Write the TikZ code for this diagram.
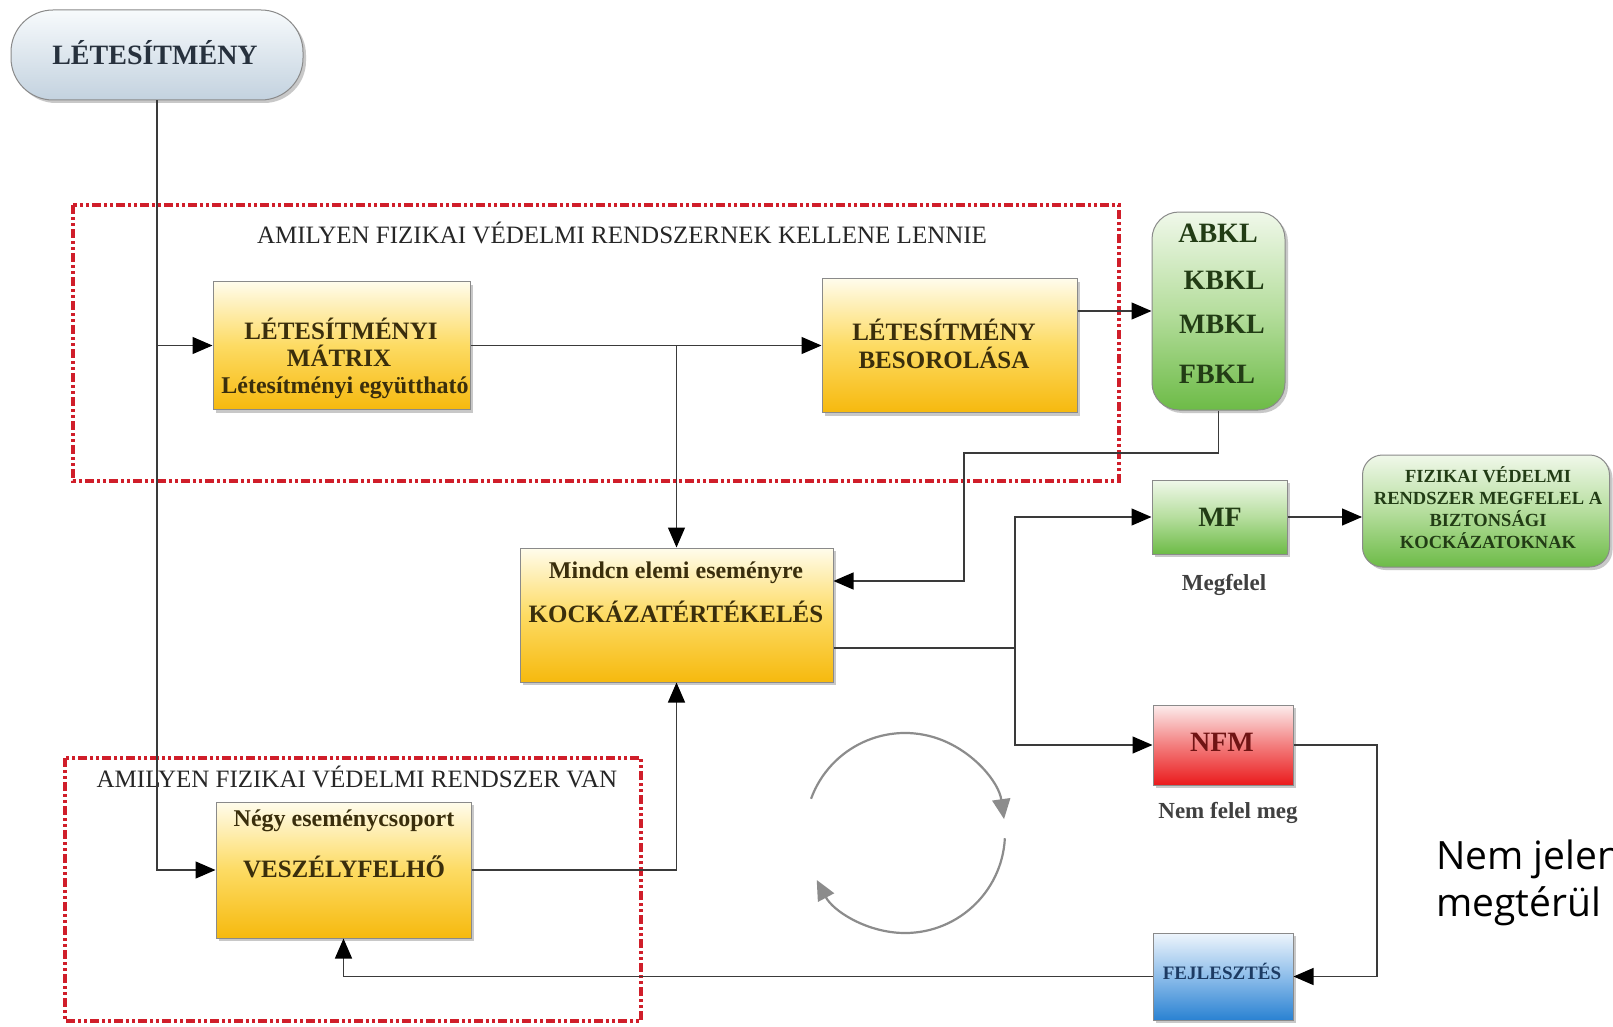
\documentclass[tikz,border=0pt]{standalone}
\usepackage{fontspec}
\setmainfont{Liberation Serif}
\newfontfamily\sansfam{Open Sans}
\usetikzlibrary{arrows.meta,shadows,calc}
\definecolor{otop}{HTML}{FFFCEC}
\definecolor{omid}{HTML}{FDDB63}
\definecolor{obot}{HTML}{F6B90E}
\definecolor{gtop}{HTML}{F0F8EA}
\definecolor{gmid}{HTML}{B6DE9E}
\definecolor{gbot}{HTML}{6DBB47}
\definecolor{rtop}{HTML}{FCEDED}
\definecolor{rmid}{HTML}{F37E7E}
\definecolor{rbot}{HTML}{EA1A1C}
\definecolor{btop}{HTML}{EEF5FC}
\definecolor{bmid}{HTML}{8DBDEA}
\definecolor{bbot}{HTML}{2A82D2}
\definecolor{ptop}{HTML}{F7FAFC}
\definecolor{pbot}{HTML}{C3D2DF}
\definecolor{edgegray}{HTML}{8A8A8A}
\definecolor{brn}{HTML}{3A2E0C}
\definecolor{dgreen}{HTML}{223C15}
\definecolor{dred}{HTML}{701414}
\definecolor{dblue}{HTML}{1D3B63}
\definecolor{dslate}{HTML}{27313D}
\definecolor{redline}{HTML}{D01E2A}
\definecolor{conn}{HTML}{3A3A3A}
\definecolor{cyc}{HTML}{8C8C8C}
\begin{document}
\begin{tikzpicture}[x=1pt,y=-1pt,
  shad/.style={drop shadow={shadow xshift=3pt,shadow yshift=-3pt,opacity=0.3,fill=black!70}},
  basebox/.style={shad,draw=edgegray,line width=1pt,inner sep=0pt},
  obox/.style={basebox,top color=otop,bottom color=obot,middle color=omid},
  gbox/.style={basebox,top color=gtop,bottom color=gbot,middle color=gmid},
  rbox/.style={basebox,top color=rtop,bottom color=rbot,middle color=rmid},
  bbox/.style={basebox,top color=btop,bottom color=bbot,middle color=bmid},
  otxt/.style={anchor=base,inner sep=0pt,text=brn,font=\bfseries\fontsize{25}{28}\selectfont},
  osub/.style={otxt,font=\bfseries\fontsize{24}{28}\selectfont},
  gtxt/.style={anchor=base,inner sep=0pt,text=dgreen,font=\bfseries\fontsize{28}{32}\selectfont},
  ftxt/.style={anchor=base,inner sep=0pt,text=dgreen,font=\bfseries\fontsize{18.5}{22}\selectfont},
  ttl/.style={anchor=base,inner sep=0pt,text=black!85,font=\fontsize{25}{28}\selectfont},
  lbl/.style={anchor=base,inner sep=0pt,text=black!75,font=\bfseries\fontsize{23}{26}\selectfont},
  redbox/.style={draw=redline,line width=4pt,dash pattern=on 9pt off 3pt on 3pt off 3pt on 3pt off 3pt},
  ln/.style={draw=conn,line width=1.3pt},
  arr/.style={ln,-{Triangle[length=20pt,width=17pt,color=black]}},
  cyca/.style={draw=cyc,line width=2.2pt,-{Triangle[length=20pt,width=18pt]}},
]
\fill[white] (0,0) rectangle (1613,1027);
\useasboundingbox (0,0) rectangle (1613,1027);

% dashed red frames
\draw[redbox] (73,205) rectangle (1119,481);
\draw[redbox] (65,758) rectangle (641,1021);
\node[ttl] (t1) at (622,243) {AMILYEN FIZIKAI VÉDELMI RENDSZERNEK KELLENE LENNIE};
\node[ttl] (t2) at (357,787) {AMILYEN FIZIKAI VÉDELMI RENDSZER VAN};

% start
\node[basebox,top color=ptop,bottom color=pbot,rounded corners=42pt,minimum width=292pt,minimum height=90pt] (pill) at (157,55) {};
\node[anchor=base,inner sep=0pt,text=dslate,font=\bfseries\fontsize{28}{30}\selectfont] (pillT) at (155,65) {LÉTESÍTMÉNY};

% orange boxes
\node[obox,minimum width=257pt,minimum height=128pt] (mat) at (341.5,345.5) {};
\node[otxt] (mat1) at (341,339) {LÉTESÍTMÉNYI};
\node[otxt] (mat2) at (339,366) {MÁTRIX};
\node[osub] (mat3) at (345,393) {Létesítményi együttható};

\node[obox,minimum width=255pt,minimum height=134pt] (besor) at (949.5,345.5) {};
\node[otxt] (bes1) at (944,340) {LÉTESÍTMÉNY};
\node[otxt] (bes2) at (944,368) {BESOROLÁSA};

\node[obox,minimum width=313pt,minimum height=134pt] (kock) at (676.5,615) {};
\node[osub] (kock1) at (676,578) {Mindcn elemi eseményre};
\node[otxt] (kock2) at (676,622) {KOCKÁZATÉRTÉKELÉS};

\node[obox,minimum width=255pt,minimum height=136pt] (vesz) at (343.5,870) {};
\node[osub] (vesz1) at (344,826) {Négy eseménycsoport};
\node[otxt] (vesz2) at (344,877) {VESZÉLYFELHŐ};

% green boxes
\node[gbox,rounded corners=27pt,minimum width=133pt,minimum height=198pt] (abkl) at (1218.5,311) {};
\node[gtxt] (k1) at (1218,242) {ABKL};
\node[gtxt] (k2) at (1224,289) {KBKL};
\node[gtxt] (k3) at (1222,333) {MBKL};
\node[gtxt] (k4) at (1217,383) {FBKL};

\node[gbox,minimum width=135pt,minimum height=74pt] (mf) at (1219.5,517) {};
\node[gtxt] (mfT) at (1220,526) {MF};
\node[lbl] (lmf) at (1224,590) {Megfelel};

\node[gbox,rounded corners=20pt,minimum width=247pt,minimum height=112pt] (fiz) at (1486,511) {};
\node[ftxt] (f1) at (1488,482) {FIZIKAI VÉDELMI};
\node[ftxt] (f2) at (1488,504) {RENDSZER MEGFELEL A};
\node[ftxt] (f3) at (1488,526) {BIZTONSÁGI};
\node[ftxt] (f4) at (1488,548) {KOCKÁZATOKNAK};

% red and blue boxes
\node[rbox,minimum width=140pt,minimum height=80pt] (nfm) at (1223,745) {};
\node[anchor=base,inner sep=0pt,text=dred,font=\bfseries\fontsize{28}{30}\selectfont] (nfmT) at (1222,751) {NFM};
\node[lbl] (lnfm) at (1228,818) {Nem felel meg};
\node[bbox,minimum width=140pt,minimum height=87pt] (fej) at (1223,976.5) {};
\node[anchor=base,inner sep=0pt,text=dblue,font=\bfseries\fontsize{19}{21}\selectfont] (fejT) at (1222,979) {FEJLESZTÉS};

% junction points
\coordinate (jA) at (964,453);
\coordinate (jB) at (964,581);
\coordinate (jR) at (1015,648);
\coordinate (jN) at (1377,900);

% connectors
\draw[arr] (pill.south) |- (vesz.west);
\draw[arr] (pill.south |- mat.west) -- (mat.west);
\draw[arr] (mat.east) -- (besor.west);
\draw[arr] (mat.east -| kock.north) -- (kock.north);
\draw[arr] (besor.east |- abkl.west) -- (abkl.west);
\draw[arr] (abkl.south) |- (jA) -- (jB) -- (kock.east |- jB);
\draw[ln] (kock.east |- jR) -- (jR);
\draw[arr] (jR) |- (mf.west);
\draw[arr] (jR) |- (nfm.west);
\draw[arr] (mf.east) -- (fiz.west |- mf.east);
\draw[arr] (nfm.east) -| (jN) |- (fej.east);
\draw[arr] (fej.west) -| (vesz.south);
\draw[arr] (vesz.east) -| (kock.south);

% cycle arrows
\coordinate (cc) at (905,833);
\draw[cyca] ($(cc)+(160:100pt)$) arc[start angle=160,end angle=8,radius=100pt];
\draw[cyca] ($(cc)+(-3:100pt)$) arc[start angle=-3,end angle=-152,radius=100pt];

% side text
\node[anchor=base west,inner sep=0pt,font=\sansfam\fontsize{39}{46}\selectfont] (side1) at (1436,869) {Nem jelen};
\node[anchor=base west,inner sep=0pt,font=\sansfam\fontsize{39}{46}\selectfont] (side2) at (1436,916) {megtérül};
\end{tikzpicture}
\end{document}
